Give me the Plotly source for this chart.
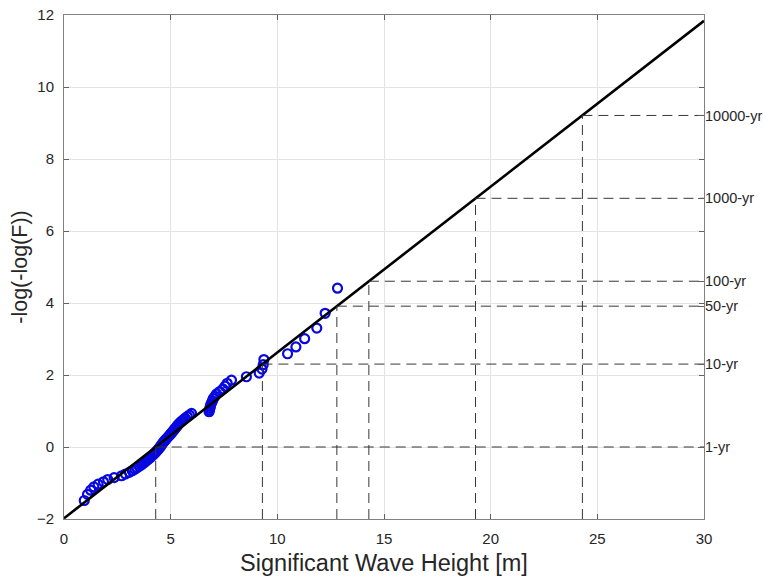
import plotly.graph_objects as go

# Observed annual maxima (significant wave height, m) and Gumbel reduced variate
hs_obs = [0.95, 1.10, 1.25, 1.40, 1.60, 1.85, 2.05, 2.35, 2.70, 2.88,
          3.06, 3.20, 3.32, 3.42, 3.52, 3.62, 3.70, 3.78, 3.85, 3.92,
          3.99, 4.06, 4.12, 4.18, 4.24, 4.29, 4.34, 4.39, 4.44, 4.48,
          4.52, 4.56, 4.60, 4.64, 4.68, 4.73, 4.78, 4.83, 4.88, 4.93,
          4.98, 5.03, 5.08, 5.13, 5.18, 5.23, 5.28, 5.33, 5.38, 5.45,
          5.52, 5.60, 5.68, 5.78, 5.88, 5.98, 6.80, 6.82, 6.84, 6.86,
          6.88, 6.92, 6.96, 7.00, 7.08, 7.15, 7.30, 7.45, 7.55, 7.65,
          7.85, 8.55, 9.15, 9.28, 9.34, 9.37, 10.48, 10.87, 11.28, 11.85,
          12.24, 12.82]
gumbel_y = [-1.486, -1.315, -1.200, -1.110, -1.033, -0.966, -0.905, -0.850, -0.798, -0.750,
            -0.704, -0.660, -0.617, -0.577, -0.537, -0.498, -0.461, -0.424, -0.388, -0.353,
            -0.318, -0.284, -0.249, -0.216, -0.182, -0.149, -0.116, -0.083, -0.050, -0.018,
            0.015, 0.048, 0.081, 0.114, 0.147, 0.180, 0.213, 0.247, 0.281, 0.315,
            0.349, 0.384, 0.419, 0.455, 0.491, 0.528, 0.565, 0.603, 0.641, 0.680,
            0.720, 0.761, 0.802, 0.845, 0.888, 0.933, 0.979, 1.026, 1.075, 1.126,
            1.178, 1.232, 1.288, 1.347, 1.408, 1.473, 1.540, 1.613, 1.689, 1.770,
            1.857, 1.951, 2.053, 2.165, 2.289, 2.429, 2.590, 2.779, 3.008, 3.303,
            3.713, 4.412]

# Fitted Gumbel line end points
fit_x = [0, 30]
fit_y = [-1.98, 11.84]

# Return levels
rp_labels = ["1-yr", "10-yr", "50-yr", "100-yr", "1000-yr", "10000-yr"]
rp_y = [0.0, 2.303, 3.912, 4.605, 6.908, 9.210]
rp_x = [4.30, 9.30, 12.79, 14.29, 19.29, 24.30]

x_range = [0, 30]
y_range = [-2, 12]

fig = go.Figure()

fig.add_trace(go.Scatter(
    x=hs_obs, y=gumbel_y, mode="markers",
    marker=dict(symbol="circle-open", size=9, color="#0808e0",
                line=dict(width=2.2, color="#0808e0")),
    showlegend=False, hoverinfo="skip"))

fig.add_trace(go.Scatter(
    x=fit_x, y=fit_y, mode="lines",
    line=dict(color="black", width=2.6),
    showlegend=False, hoverinfo="skip"))

dash_x, dash_y = [], []
for rx, ry in zip(rp_x, rp_y):
    dash_x += [rx, x_range[1], None, rx, rx, None]
    dash_y += [ry, ry, None, y_range[0], ry, None]
fig.add_trace(go.Scatter(
    x=dash_x, y=dash_y, mode="lines",
    line=dict(color="rgb(55,55,55)", width=1, dash="10px,6px"),
    showlegend=False, hoverinfo="skip"))

# invisible trace to activate right axis
fig.add_trace(go.Scatter(x=[None], y=[None], yaxis="y2", showlegend=False))

font_family = "Liberation Sans, Arial, sans-serif"
axis_common = dict(
    showgrid=True, gridcolor="#e3e3e3", gridwidth=1,
    zeroline=False, showline=True, linecolor="#808080", linewidth=1,
    mirror="ticks", ticks="inside", ticklen=5, tickcolor="#606060",
    tickfont=dict(family=font_family, size=15, color="#262626"),
    automargin=False, ticklabeloverflow="allow",
)

fig.update_layout(
    width=763, height=582,
    margin=dict(l=64, r=59, t=15, b=63, autoexpand=False),
    plot_bgcolor="white", paper_bgcolor="white",
    font=dict(family=font_family, color="#262626"),
    xaxis=dict(range=x_range, tickvals=[0, 5, 10, 15, 20, 25, 30],
               ticklabelstandoff=6,
               title=dict(text="Significant Wave Height [m]",
                          font=dict(size=23.5, color="#262626"), standoff=8),
               **axis_common),
    yaxis=dict(range=y_range, tickvals=[-2, 0, 2, 4, 6, 8, 10, 12],
               ticklabelstandoff=6,
               title=dict(text="-log(-log(F))",
                          font=dict(size=21.5, color="#262626"), standoff=3),
               **axis_common),
    yaxis2=dict(range=y_range, overlaying="y", side="right",
                tickvals=rp_y, ticktext=rp_labels,
                ticks="inside", ticklen=6, tickcolor="#606060",
                showgrid=False, zeroline=False, showline=False,
                automargin=False, ticklabelstandoff=0, ticklabeloverflow="allow",
                tickfont=dict(family=font_family, size=14.5, color="#262626")),
)

fig.write_html("out.html",
               config={"displayModeBar": False},
               post_script="document.body.style.margin='0';document.body.style.overflow='hidden';")
